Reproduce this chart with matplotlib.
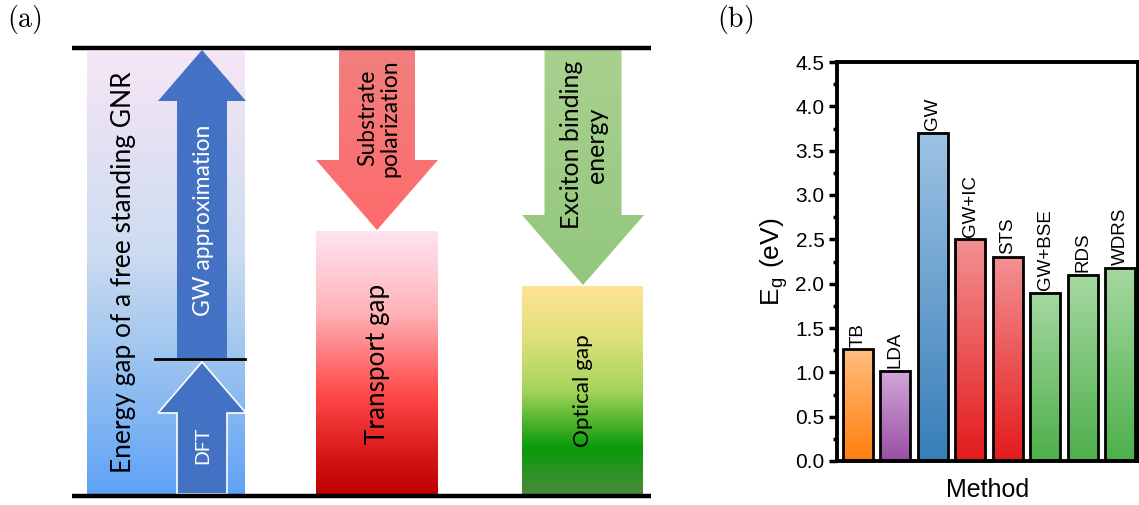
import numpy as np
import matplotlib
matplotlib.use('Agg')
from matplotlib import pyplot as plt
from matplotlib.patches import Polygon
from matplotlib.colors import LinearSegmentedColormap
from matplotlib.ticker import MultipleLocator

plt.rcParams['mathtext.fontset'] = 'cm'

# panel (b) data
methods = ['TB', 'LDA', 'GW', 'GW+IC', 'STS', 'GW+BSE', 'RDS', 'WDRS']
gaps = [1.26, 1.02, 3.70, 2.50, 2.30, 1.90, 2.10, 2.18]
bar_top = ['#ffbd7e', '#d3a8da', '#9dc3e4', '#f39192', '#f39192', '#a6d9a2', '#a6d9a2', '#a6d9a2']
bar_bottom = ['#ff7f0e', '#984ea3', '#377eb8', '#e41a1c', '#e41a1c', '#4daf4a', '#4daf4a', '#4daf4a']

# panel (a) schematic text
schematic_text = ['Energy gap of a free standing GNR', 'GW approximation', 'DFT',
                  'Substrate\npolarization', 'Transport gap', 'Exciton binding\nenergy', 'Optical gap']

fig = plt.figure(figsize=(11.39, 5.05), dpi=100)

# ---------- panel (a): schematic drawn in pixel coordinates ----------
axa = fig.add_axes([0, 0, 1, 1])
axa.set_xlim(0, 1139)
axa.set_ylim(505, 0)
axa.axis('off')


def grad_fill(ax, verts, colors, stops=None, z=2, ec='none', lw=0):
    if stops is None:
        stops = np.linspace(0, 1, len(colors))
    poly = Polygon(verts, closed=True, fc='none', ec=ec, lw=lw, zorder=z + 0.5)
    ax.add_patch(poly)
    xs = [v[0] for v in verts]
    ys = [v[1] for v in verts]
    cmap = LinearSegmentedColormap.from_list('g', list(zip(stops, colors)))
    grad = np.linspace(0, 1, 256).reshape(-1, 1)
    im = ax.imshow(grad, cmap=cmap, extent=[min(xs), max(xs), max(ys), min(ys)],
                   aspect='auto', origin='upper', interpolation='bicubic', zorder=z)
    im.set_clip_path(poly)


def box(x0, x1, y0, y1):
    return [(x0, y0), (x1, y0), (x1, y1), (x0, y1)]


def up_arrow(xc, sw, hw, tip, base, bottom):
    return [(xc - sw / 2, bottom), (xc - sw / 2, base), (xc - hw / 2, base), (xc, tip),
            (xc + hw / 2, base), (xc + sw / 2, base), (xc + sw / 2, bottom)]


def down_arrow(xc, sw, hw, top, base, tip):
    return [(xc - sw / 2, top), (xc + sw / 2, top), (xc + sw / 2, base), (xc + hw / 2, base),
            (xc, tip), (xc - hw / 2, base), (xc - sw / 2, base)]


# blue column
grad_fill(axa, box(87, 245, 51, 494), ['#f6e6f6', '#cddcf0', '#9cc4f0', '#5fa2f6'], [0, 0.45, 0.7, 1], z=1)
grad_fill(axa, up_arrow(202, 50, 88, 50, 101, 358), ['#4472c4', '#4472c4'], z=3)
grad_fill(axa, up_arrow(202, 50, 88, 362, 413, 494), ['#4472c4', '#4472c4'], z=3, ec='white', lw=1.2)
axa.plot([155, 245], [359, 359], color='black', lw=2, zorder=5)

# red column
grad_fill(axa, down_arrow(377, 76, 122, 50, 160, 230), ['#f17f7f', '#ff6b6b'], z=3)
grad_fill(axa, box(316, 438, 231, 494), ['#fde4f0', '#ffb5ba', '#ff4a4a', '#d81818', '#c00000'],
          [0, 0.3, 0.62, 0.85, 1], z=1)

# green column
grad_fill(axa, down_arrow(583, 77, 122, 50, 215, 285), ['#a9d18e', '#92c77c'], z=3)
grad_fill(axa, box(522, 643, 286, 494), ['#ffe394', '#dfe07c', '#a5d55a', '#0a9a0a', '#4a8a3a'],
          [0, 0.25, 0.5, 0.78, 1], z=1)

# level lines
axa.plot([72, 651], [48, 48], color='black', lw=3.2, zorder=6, solid_capstyle='butt')
axa.plot([72, 651], [496, 496], color='black', lw=3.2, zorder=6, solid_capstyle='butt')

tfont = 'Lato'
axa.text(124, 272, schematic_text[0], rotation=90, ha='center', va='center',
         fontsize=19, family=tfont, zorder=7)
axa.text(203, 220, schematic_text[1], rotation=90, ha='center', va='center',
         fontsize=16.5, family=tfont, color='white', zorder=7)
axa.text(203, 445, schematic_text[2], rotation=90, ha='center', va='center',
         fontsize=14, family=tfont, color='white', zorder=7)
axa.text(379, 118, schematic_text[3], rotation=90, ha='center', va='center',
         fontsize=16.5, family=tfont, zorder=7, linespacing=1.1)
axa.text(378, 364, schematic_text[4], rotation=90, ha='center', va='center',
         fontsize=18.8, family=tfont, zorder=7)
axa.text(584, 145, schematic_text[5], rotation=90, ha='center', va='center',
         fontsize=18, family=tfont, zorder=7, linespacing=1.1)
axa.text(583, 391, schematic_text[6], rotation=90, ha='center', va='center',
         fontsize=16.2, family=tfont, zorder=7)

axa.text(7, 20, r'$\mathrm{(a)}$', fontsize=20, va='center', ha='left')
axa.text(717, 20, r'$\mathrm{(b)}$', fontsize=20, va='center', ha='left')

# ---------- panel (b): bar chart ----------
axb = fig.add_axes([837 / 1139, 44 / 505, 301 / 1139, 399 / 505])
sans = 'Liberation Sans'
x = np.arange(len(methods))
w = 0.8
grad = np.linspace(0, 1, 256).reshape(-1, 1)
for i, (v, ct, cb) in enumerate(zip(gaps, bar_top, bar_bottom)):
    cmap = LinearSegmentedColormap.from_list('b%d' % i, [cb, ct])
    axb.imshow(grad, cmap=cmap, extent=[x[i] - w / 2, x[i] + w / 2, 0, v],
               aspect='auto', origin='lower', zorder=2)
axb.bar(x, gaps, width=w, facecolor='none', edgecolor='black', linewidth=2, zorder=3)
for i, v in enumerate(gaps):
    axb.text(x[i], v + 0.03, methods[i], rotation=90, ha='center', va='bottom',
             fontsize=13.5, family=sans, zorder=4)

axb.set_xlim(-0.55, 7.47)
axb.set_ylim(0, 4.5)
axb.set_xticks([])
axb.yaxis.set_major_locator(MultipleLocator(0.5))
axb.yaxis.set_minor_locator(MultipleLocator(0.25))
axb.tick_params(axis='y', which='major', direction='out', length=6, width=2.5,
                labelsize=15, pad=3)
axb.tick_params(axis='y', which='minor', direction='out', length=3, width=2.5)
for lab in axb.get_yticklabels():
    lab.set_family(sans)
for s in axb.spines.values():
    s.set_linewidth(2.8)
axb.set_xlabel('Method', fontsize=18, family=sans, labelpad=12)
axb.set_ylabel(r'E$_\mathregular{g}$ (eV)', fontsize=19, family=sans, labelpad=4)

fig.savefig('out.png', dpi=100)
